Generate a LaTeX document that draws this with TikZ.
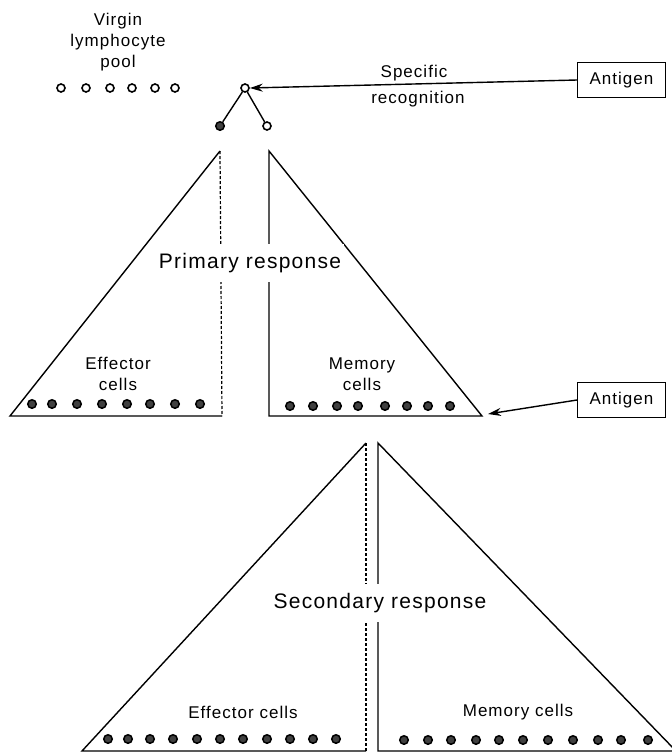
\documentclass[tikz,border=0pt]{standalone}
\usepackage{fontspec}
\setmainfont{Liberation Sans}[LetterSpace=6]
\usetikzlibrary{arrows.meta,positioning}

\begin{document}
\begin{tikzpicture}[x=1pt,y=-1pt,
  opencell/.style={circle,draw,line width=1.6pt,inner sep=0pt,minimum size=8pt},
  fullcell/.style={circle,draw,line width=1.5pt,fill=black!75,inner sep=0pt,minimum size=8.5pt},
  agbox/.style={draw,line width=1pt,anchor=west,minimum height=35pt,inner xsep=12pt,font=\fontsize{17}{20}\selectfont},
  lab/.style={align=center,font=\fontsize{17}{21}\selectfont},
  biglab/.style={fill=white,inner xsep=3pt,inner ysep=9pt,font=\fontsize{21}{24}\selectfont},
  side/.style={line width=1.4pt},
  midline/.style={line width=1.2pt,densely dashed}]

  \clip (0,0) rectangle (672,753);

  % virgin pool and the selected cell
  \node[lab] (pool) at (118,42) {Virgin\\lymphocyte\\pool};
  \foreach \x [count=\i] in {61,86,110,132,155,175}
    \node[opencell] (v\i) at (\x,88) {};
  \node[opencell] (sel) at (245,88) {};
  \node[fullcell] (cl) at (220,126) {};
  \node[opencell] (cr) at (267,126) {};
  \draw[side] (sel) -- (cl) (sel) -- (cr);

  \node[agbox] (ag1) at (577,80) {Antigen};
  \node[lab] (spec) at (414,73) {Specific};
  \node[lab] (recog) at (418,99) {recognition};
  \draw[side,-{Stealth[length=13pt,width=8pt]}] (ag1.west) -- (sel.east);

  % primary response
  \coordinate (pl) at (220,151);
  \coordinate (pr) at (269,151);
  \draw[side] (pl) -- (10,416) -- (222,416);
  \draw[midline] (pl) -- (222,416);
  \draw[side] (pr) -- (269,416) -- (482,416) -- cycle;
  \node[biglab] (prim) at (250,263) {Primary response};

  \node[lab] (peff) at (118,374) {Effector\\cells};
  \foreach \x [count=\i] in {32,52,77,102,127,150,175,200}
    \node[fullcell] (pe\i) at (\x,404) {};
  \node[lab] (pmem) at (362,374) {Memory\\cells};
  \foreach \x [count=\i] in {290,313,337,358,385,407,428,450}
    \node[fullcell] (pm\i) at (\x,406) {};

  \node[agbox] (ag2) at (577,400) {Antigen};
  \coordinate (tip) at (488,414);
  \draw[side,-{Stealth[length=13pt,width=8pt]}] (ag2.west) -- (tip);

  % secondary response
  \coordinate (sl) at (366,443);
  \coordinate (sr) at (378,443);
  \draw[side] (sl) -- (82,751) -- (366,751);
  \draw[midline] (sl) -- (366,751);
  \draw[side] (sr) -- (378,751) -- (676,751) -- cycle;
  \node[biglab] (sec) at (380,603) {Secondary response};

  \node[lab] (seff) at (243,712) {Effector cells};
  \foreach \x [count=\i] in {108,128,150,173,197,220,243,267,290,313,336}
    \node[fullcell] (se\i) at (\x,739) {};
  \node[lab] (smem) at (518,712) {Memory cells};
  \foreach \x [count=\i] in {404,428,451,476,499,523,548,573,598,621,648}
    \node[fullcell] (sm\i) at (\x,740) {};

\end{tikzpicture}
\end{document}
